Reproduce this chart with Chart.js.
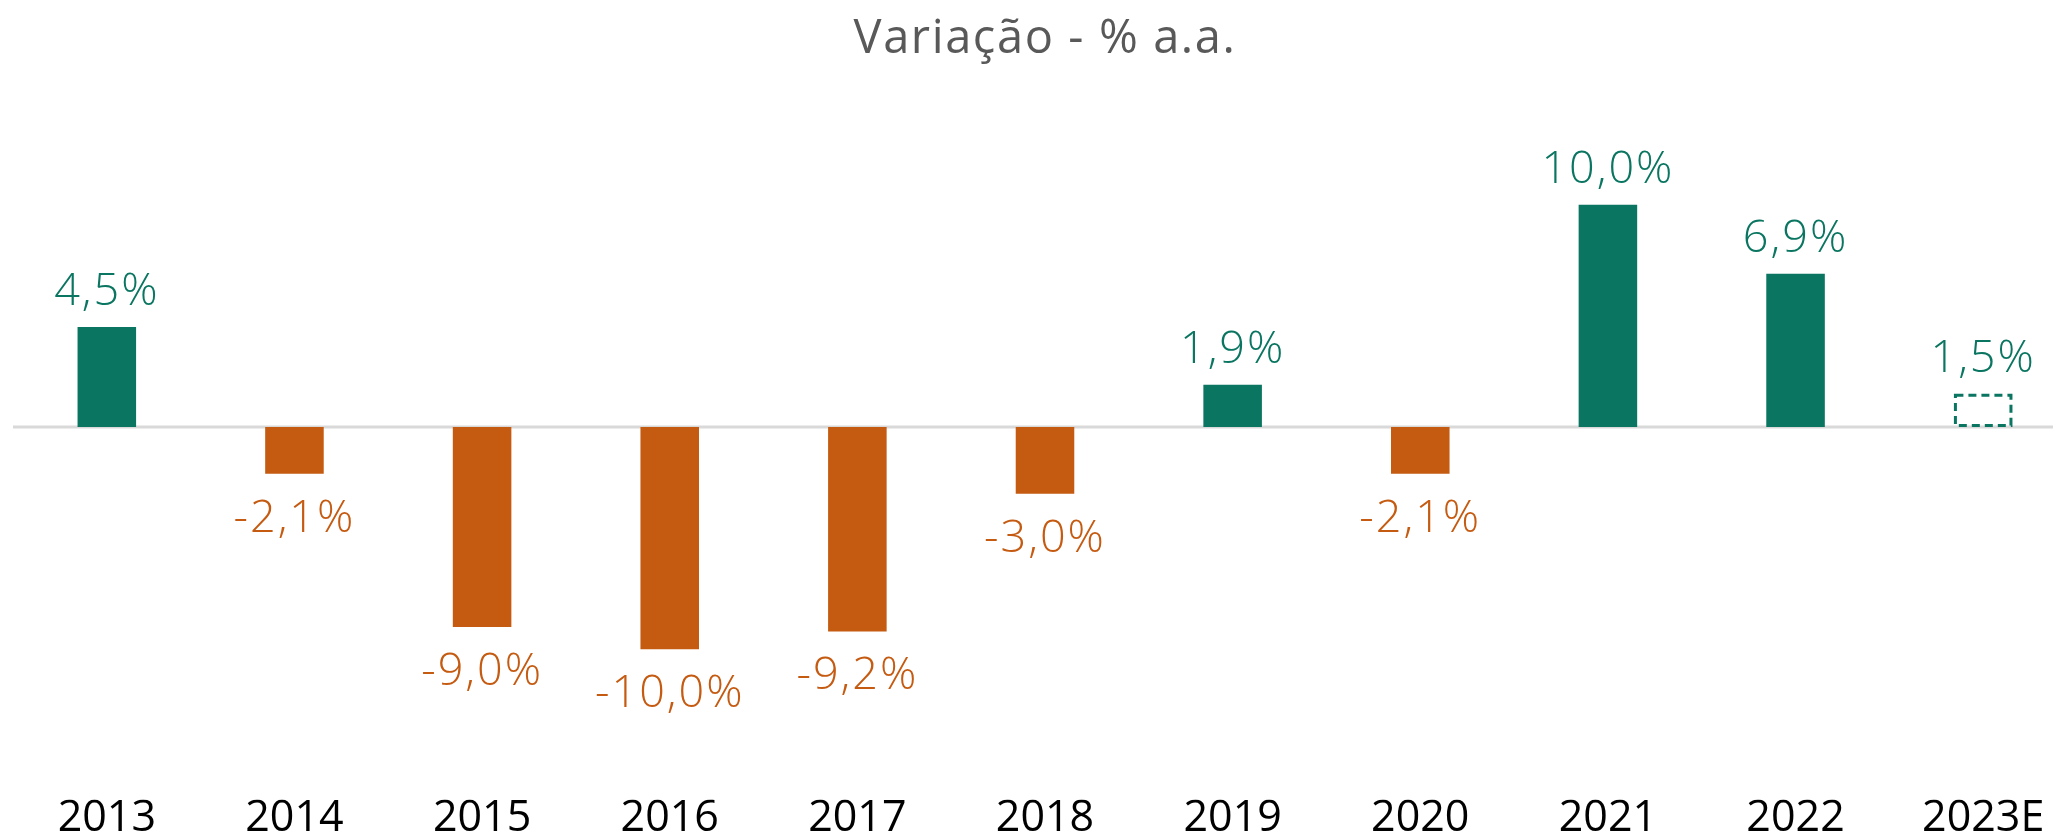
<!DOCTYPE html>
<html>
<head>
<meta charset="utf-8">
<script src="https://cdn.jsdelivr.net/npm/chart.js@4.4.0/dist/chart.umd.min.js"></script>
<style>
  html, body { margin: 0; padding: 0; background: #ffffff; overflow: hidden; }
  #wrap { position: relative; width: 2090px; height: 838px; }
</style>
</head>
<body>
<div id="wrap"><canvas id="variacao-chart"></canvas></div>
<script>
const years = ['2013', '2014', '2015', '2016', '2017', '2018', '2019', '2020', '2021', '2022', '2023E'];
const variacao = [4.5, -2.1, -9.0, -10.0, -9.2, -3.0, 1.9, -2.1, 10.0, 6.9, 1.5];
const estimado = [false, false, false, false, false, false, false, false, false, false, true];
const tituloTexto = 'Variação - % a.a.';

const verde = '#0a7560';
const laranja = '#c55a11';

const barColors = variacao.map((v, i) => estimado[i] ? 'rgba(0,0,0,0)' : (v >= 0 ? verde : laranja));

function formatPct(v) {
    return v.toFixed(1).replace('.', ',') + '%';
}

// titulo com espacamento entre letras (o titulo do Chart.js nao tem letterSpacing)
const titulo = {
    id: 'titulo',
    afterDraw(chart) {
        const ctx = chart.ctx;
        const area = chart.chartArea;
        ctx.save();
        ctx.font = '400 47px "Open Sans"';
        ctx.letterSpacing = '1.6px';
        ctx.fillStyle = '#595959';
        ctx.textAlign = 'center';
        ctx.textBaseline = 'alphabetic';
        ctx.fillText(tituloTexto, (area.left + area.right) / 2, 53);
        ctx.restore();
    }
};

// linha do zero, atras das barras
const zeroLine = {
    id: 'zeroLine',
    beforeDatasetsDraw(chart) {
        const ctx = chart.ctx;
        const y = chart.scales.y.getPixelForValue(0);
        ctx.save();
        ctx.strokeStyle = '#d9d9d9';
        ctx.lineWidth = 3;
        ctx.beginPath();
        ctx.moveTo(chart.chartArea.left, y);
        ctx.lineTo(chart.chartArea.right, y);
        ctx.stroke();
        ctx.restore();
    }
};

// barra tracejada (estimativa) e rotulos
const barLabels = {
    id: 'barLabels',
    afterDatasetsDraw(chart) {
        const ctx = chart.ctx;
        const meta = chart.getDatasetMeta(0);
        ctx.save();
        meta.data.forEach((bar, i) => {
            const v = variacao[i];
            const color = v >= 0 ? verde : laranja;
            if (estimado[i]) {
                const half = bar.width / 2;
                ctx.strokeStyle = color;
                ctx.lineWidth = 3;
                ctx.setLineDash([8, 5]);
                ctx.strokeRect(bar.x - half + 1.5, Math.min(bar.y, bar.base) + 1.5, bar.width - 3, Math.abs(bar.base - bar.y) - 3);
                ctx.setLineDash([]);
            }
            ctx.fillStyle = color;
            ctx.font = '300 45px "Open Sans"';
            ctx.letterSpacing = '2px';
            ctx.textAlign = 'center';
            ctx.textBaseline = 'alphabetic';
            if (v >= 0) {
                ctx.fillText(formatPct(v), bar.x, bar.y - 22);
            } else {
                ctx.fillText(formatPct(v), bar.x, bar.y + 58);
            }
        });
        ctx.restore();
    }
};

const ctx = document.getElementById('variacao-chart').getContext('2d');
const variacaoChart = new Chart(ctx, {
    type: 'bar',
    data: {
        labels: years,
        datasets: [
            {
                label: 'Variação',
                data: variacao,
                backgroundColor: barColors,
                borderWidth: 0,
                categoryPercentage: 1,
                barPercentage: 0.312
            }
        ]
    },
    options: {
        responsive: true,
        maintainAspectRatio: false,
        animation: false,
        layout: {
            padding: { left: 13, right: 13, top: 100, bottom: 0 }
        },
        plugins: {
            legend: { display: false },
            tooltip: { enabled: false },
            title: { display: false }
        },
        scales: {
            x: {
                grid: { display: false, drawTicks: false },
                border: { display: false },
                ticks: {
                    color: '#000000',
                    padding: 2,
                    maxRotation: 0,
                    minRotation: 0,
                    font: { family: '"Open Sans"', size: 43, lineHeight: 0.8 }
                }
            },
            y: {
                display: false,
                min: -16.77,
                max: 14.72
            }
        }
    },
    plugins: [zeroLine, barLabels, titulo]
});
</script>
</body>
</html>
